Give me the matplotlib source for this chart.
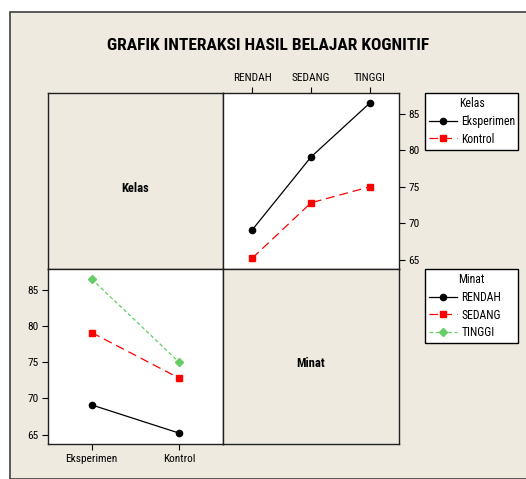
import matplotlib
matplotlib.use("Agg")
import matplotlib.pyplot as plt
from matplotlib.patches import Rectangle

plt.rcParams['font.family'] = ['Roboto Condensed', 'Liberation Sans Narrow', 'Roboto']

# data (mean cognitive score)
KELAS = ['Eksperimen', 'Kontrol']
MINAT = ['RENDAH', 'SEDANG', 'TINGGI']
eksperimen = [69.1, 79.1, 86.5]
kontrol = [65.2, 72.8, 75.0]
Y_TICKS = [65, 70, 75, 80, 85]
YLIM = (63.7, 87.9)

BG = '#EEEAE0'
GREEN = '#66CC66'
STYLES = [
    dict(color='black', ls='-', marker='o', ms=4.5),
    dict(color='red', ls=(0, (7, 4)), marker='s', ms=4.5),
    dict(color=GREEN, ls=(0, (3, 2)), marker='D', ms=4.5),
]

W, H = 526, 479
fig = plt.figure(figsize=(W / 100, H / 100), dpi=100)
fig.patch.set_facecolor('white')
fig.patches.append(Rectangle((10 / W, 0), 1, 1 - 12 / H, transform=fig.transFigure,
                             facecolor=BG, edgecolor='#404040', lw=1.2, zorder=-5))


def box(x0, y0, x1, y1):
    return [x0 / W, 1 - y1 / H, (x1 - x0) / W, (y1 - y0) / H]


ax_kl = fig.add_axes(box(48, 93, 223, 269))
ax_tr = fig.add_axes(box(223, 93, 399, 269))
ax_bl = fig.add_axes(box(48, 269, 223, 444))
ax_mn = fig.add_axes(box(223, 269, 399, 444))

for ax, txt in [(ax_kl, 'Kelas'), (ax_mn, 'Minat')]:
    ax.set_facecolor(BG)
    ax.set_xticks([]); ax.set_yticks([])
    ax.text(0.5, 0.46, txt, transform=ax.transAxes, ha='center', va='center',
            fontsize=9, fontweight='bold')

for ax in (ax_kl, ax_tr, ax_bl, ax_mn):
    for s in ax.spines.values():
        s.set_linewidth(1.0)
        s.set_color('#202020')

# upper right: x = Minat, lines by Kelas
x3 = range(len(MINAT))
h_k = []
for vals, name, st in zip([eksperimen, kontrol], KELAS, STYLES):
    h, = ax_tr.plot(x3, vals, label=name, lw=0.9, **st)
    h_k.append(h)
ax_tr.set_xlim(-0.5, 2.5)
ax_tr.set_ylim(*YLIM)
ax_tr.set_xticks(list(x3))
ax_tr.set_xticklabels(MINAT)
ax_tr.set_yticks(Y_TICKS)
ax_tr.xaxis.tick_top()
ax_tr.yaxis.tick_right()
ax_tr.tick_params(labelsize=8.2, length=4, width=0.8, pad=3)

# lower left: x = Kelas, lines by Minat
x2 = range(len(KELAS))
h_m = []
for i, (name, st) in enumerate(zip(MINAT, STYLES)):
    vals = [eksperimen[i], kontrol[i]]
    h, = ax_bl.plot(x2, vals, label=name, lw=0.9, **st)
    h_m.append(h)
ax_bl.set_xlim(-0.5, 1.5)
ax_bl.set_ylim(*YLIM)
ax_bl.set_xticks(list(x2))
ax_bl.set_xticklabels(KELAS)
ax_bl.set_yticks(Y_TICKS)
ax_bl.tick_params(labelsize=8.2, length=4, width=0.8, pad=3)

# legends: same fixed width, stacked at the right
for handles, title, top in [(h_k, 'Kelas', 93), (h_m, 'Minat', 269)]:
    leg = fig.legend(handles=handles, title=title, loc='upper left', mode='expand',
                     bbox_to_anchor=(425 / W, 1 - top / H - 0.01, 93 / W, 0.01),
                     fontsize=8.5, title_fontsize=8.5, fancybox=False, framealpha=1,
                     edgecolor='black', handlelength=2.4, borderpad=0.35,
                     borderaxespad=0, labelspacing=0.4, handletextpad=0.35)
    leg.get_frame().set_linewidth(1.0)

fig.text(268 / W, 1 - 45 / H, 'GRAFIK INTERAKSI HASIL BELAJAR KOGNITIF',
         ha='center', va='center', fontsize=12.5, fontweight='bold')

fig.savefig('out.png', dpi=100)
